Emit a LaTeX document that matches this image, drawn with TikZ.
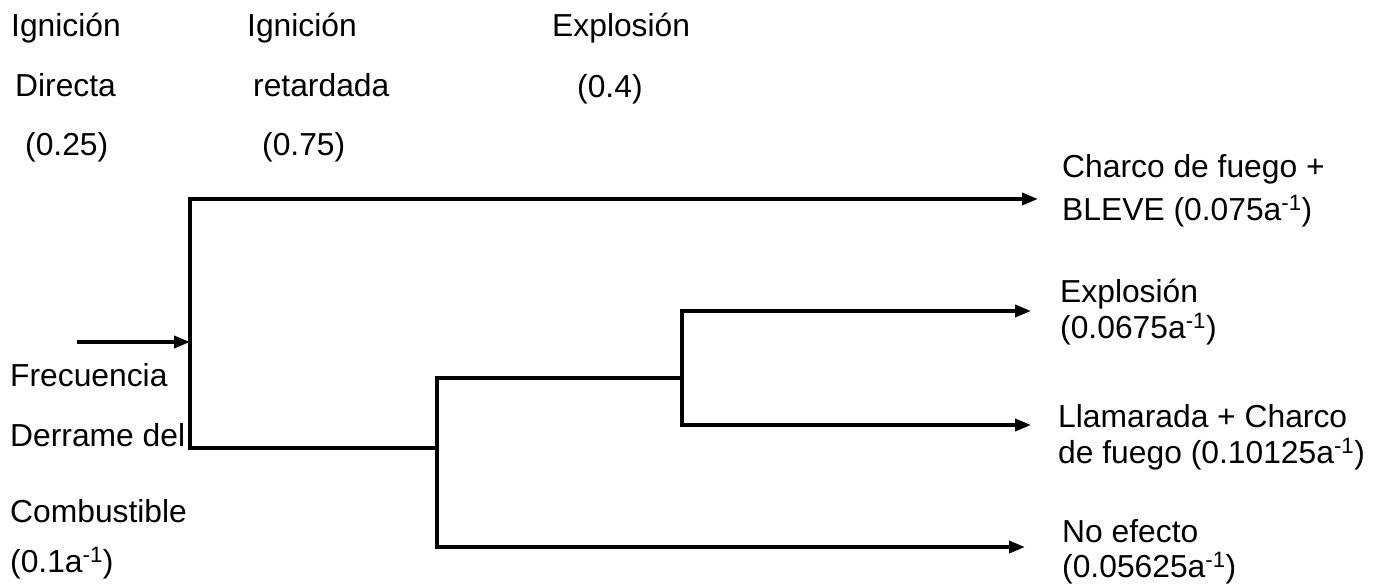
\documentclass[tikz,border=0pt]{standalone}
\usepackage{fontspec}
\setmainfont{Liberation Sans}
\usetikzlibrary{arrows.meta}
\begin{document}
\begin{tikzpicture}[x=1pt,y=-1pt,
  lbl/.style={anchor=base west,inner sep=0pt,font=\fontsize{31.8}{38}\selectfont},
  ln/.style={line width=3.6pt,line cap=rect},
  arr/.style={line width=3.6pt,-{Triangle[length=16pt,width=12pt]}}]
\useasboundingbox (0,0) rectangle (1380,586);
% header labels
\node[lbl] (i1) at (11,37) {Ignición};
\node[lbl] (i2) at (15,96) {Directa};
\node[lbl] (i3) at (25,155) {(0.25)};
\node[lbl] (r1) at (247,37) {Ignición};
\node[lbl] (r2) at (253,96) {retardada};
\node[lbl] (r3) at (262,155) {(0.75)};
\node[lbl] (e1) at (552,37) {Explosión};
\node[lbl] (e2) at (577,97) {(0.4)};
% left labels
\node[lbl] (f1) at (10,386) {Frecuencia};
\node[lbl] (f2) at (10,446) {Derrame del};
\node[lbl] (f3) at (10,522) {Combustible};
\node[lbl] (f4) at (10,572) {(0.1a\textsuperscript{-1})};
% outcome labels
\node[lbl] (o1a) at (1062,177) {Charco de fuego +};
\node[lbl] (o1b) at (1062,220) {BLEVE (0.075a\textsuperscript{-1})};
\node[lbl] (o2a) at (1060,302) {Explosión};
\node[lbl] (o2b) at (1060,338) {(0.0675a\textsuperscript{-1})};
\node[lbl] (o3a) at (1058,427) {Llamarada + Charco};
\node[lbl] (o3b) at (1058,463) {de fuego (0.10125a\textsuperscript{-1})};
\node[lbl] (o4a) at (1062,542) {No efecto};
\node[lbl] (o4b) at (1062,577) {(0.05625a\textsuperscript{-1})};
% tree coordinates
\coordinate (in) at (77,342);
\coordinate (n1) at (190,342);
\coordinate (n1t) at (190,199);
\coordinate (n1b) at (190,448);
\coordinate (n2) at (437,448);
\coordinate (n2t) at (437,378);
\coordinate (n2b) at (437,547);
\coordinate (n3) at (682,378);
\coordinate (n3t) at (682,311);
\coordinate (n3b) at (682,425);
\coordinate (t1) at (1038,199);
\coordinate (t2) at (1031,311);
\coordinate (t3) at (1031,425);
\coordinate (t4) at (1025,547);
% connectors
\draw[arr] (in) -- (n1);
\draw[ln] (n1t) -- (n1b) -- (n2);
\draw[ln] (n2t) -- (n2b);
\draw[ln] (n2t) -- (n3);
\draw[ln] (n3t) -- (n3b);
\draw[arr] (n1t) -- (t1);
\draw[arr] (n3t) -- (t2);
\draw[arr] (n3b) -- (t3);
\draw[arr] (n2b) -- (t4);
\end{tikzpicture}
\end{document}
